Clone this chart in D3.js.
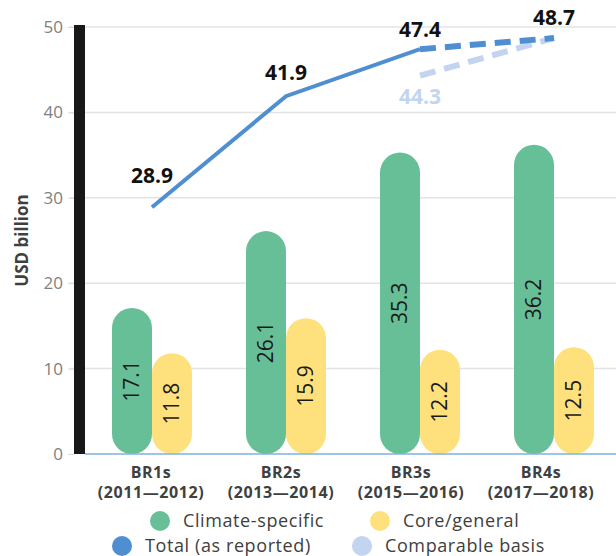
<!DOCTYPE html>
<html>
<head>
<meta charset="utf-8">
<script src="https://cdn.jsdelivr.net/npm/d3@7"></script>
<style>
body { margin: 0; background: #fff; }
text { font-family: "Open Sans", "Noto Sans", sans-serif; }
</style>
</head>
<body>
<svg id="chart" width="616" height="556"></svg>
<script>
let categories = ['BR1s', 'BR2s', 'BR3s', 'BR4s']
let periods = ['(2011\u20142012)', '(2013\u20142014)', '(2015\u20142016)', '(2017\u20142018)']
let climateSpecific = [17.1, 26.1, 35.3, 36.2]
let coreGeneral = [11.8, 15.9, 12.2, 12.5]
let totalReported = [28.9, 41.9, 47.4, 48.7]
let comparableCats = ['BR3s', 'BR4s']
let comparableBasis = [44.3, 48.7]
let yTicks = [0, 10, 20, 30, 40, 50]

let colors = {green: '#67bf98', yellow: '#fee17c', blue: '#4f8fd1', light: '#c3d4f0', text: '#404040'}

let svg = d3.select('#chart')
let width = +svg.attr('width')

let y = d3.scaleLinear().domain([0, 50]).range([454, 27])
let x = d3.scaleBand().domain(categories).range([85, 621])
let xl = d3.scaleBand().domain(categories).range([86, 606])
let sub = d3.scaleBand().domain(['c', 'g']).range([0, 80])

// grid
svg.append('g').selectAll('line')
    .data(yTicks.slice(1))
    .enter().append('line')
    .attr('x1', 70).attr('x2', width)
    .attr('y1', d => y(d)).attr('y2', d => y(d))
    .attr('stroke', '#e4e4e4').attr('stroke-width', 1.5)

// y axis
let yAxis = svg.append('g')
    .attr('transform', 'translate(74,0)')
    .call(d3.axisLeft(y).tickValues(yTicks).tickSize(6).tickPadding(5))
yAxis.select('.domain').remove()
yAxis.selectAll('line').attr('stroke', '#d9d9d9')
yAxis.selectAll('text').attr('fill', '#808080').style('font-size', '17px')

svg.append('rect')
    .attr('x', 74).attr('y', y(50) - 2)
    .attr('width', 11).attr('height', y(0) - y(50) + 2)
    .attr('fill', '#1a1816')

svg.append('text')
    .attr('transform', 'translate(28,' + y(25) + ') rotate(-90)')
    .attr('text-anchor', 'middle')
    .attr('fill', colors.text)
    .style('font-size', '17px').style('font-weight', 'bold')
    .text('USD billion')

// bars
let groups = svg.append('g').selectAll('g')
    .data(categories)
    .enter().append('g')
    .attr('transform', d => 'translate(' + (x(d) + x.bandwidth() / 2 - 40) + ',0)')

groups.append('rect')
    .attr('x', sub('c')).attr('width', sub.bandwidth())
    .attr('y', (d, i) => y(climateSpecific[i]))
    .attr('height', (d, i) => y(0) - y(climateSpecific[i]))
    .attr('rx', 20).attr('fill', colors.green)

groups.append('rect')
    .attr('x', sub('g')).attr('width', sub.bandwidth())
    .attr('y', (d, i) => y(coreGeneral[i]))
    .attr('height', (d, i) => y(0) - y(coreGeneral[i]))
    .attr('rx', 20).attr('fill', colors.yellow)

groups.append('text')
    .attr('transform', (d, i) => 'translate(' + (sub('c') + 20) + ',' + y(climateSpecific[i] / 2) + ') rotate(-90)')
    .attr('text-anchor', 'middle').attr('dy', '0.35em')
    .attr('fill', '#1a1a1a').style('font-size', '21px').style('font-weight', 500)
    .text((d, i) => climateSpecific[i].toFixed(1))

groups.append('text')
    .attr('transform', (d, i) => 'translate(' + (sub('g') + 20) + ',' + y(coreGeneral[i] / 2) + ') rotate(-90)')
    .attr('text-anchor', 'middle').attr('dy', '0.35em')
    .attr('fill', '#1a1a1a').style('font-size', '21px').style('font-weight', 500)
    .text((d, i) => coreGeneral[i].toFixed(1))

// baseline
svg.append('line')
    .attr('x1', 85).attr('x2', width)
    .attr('y1', y(0)).attr('y2', y(0))
    .attr('stroke', '#7fb0e0').attr('stroke-width', 1.5)

// lines
let cx = d => x(d) + x.bandwidth() / 2
let line = d3.line().x(d => cx(d.cat)).y(d => y(d.v))
let total = categories.map((c, i) => ({cat: c, v: totalReported[i]}))
let comp = comparableCats.map((c, i) => ({cat: c, v: comparableBasis[i]}))

svg.append('path')
    .datum(comp)
    .attr('d', line)
    .attr('fill', 'none').attr('stroke', colors.light)
    .attr('stroke-width', 6).attr('stroke-dasharray', '16,9')

svg.append('path')
    .datum(total.slice(0, 3))
    .attr('d', line)
    .attr('fill', 'none').attr('stroke', colors.blue).attr('stroke-width', 4)

svg.append('path')
    .datum(total.slice(2))
    .attr('d', line)
    .attr('fill', 'none').attr('stroke', colors.blue)
    .attr('stroke-width', 6).attr('stroke-dasharray', '16,9')

// line labels
let labelOffsets = [-24, -16, -12, -13]
svg.append('g').selectAll('text')
    .data(total)
    .enter().append('text')
    .attr('x', d => cx(d.cat))
    .attr('y', (d, i) => y(d.v) + labelOffsets[i])
    .attr('text-anchor', 'middle')
    .attr('fill', '#111').style('font-size', '21px').style('font-weight', 'bold')
    .text(d => d.v.toFixed(1))

svg.append('text')
    .attr('x', cx(comp[0].cat))
    .attr('y', y(comp[0].v) + 28)
    .attr('text-anchor', 'middle')
    .attr('fill', colors.light).style('font-size', '21px').style('font-weight', 'bold')
    .text(comp[0].v.toFixed(1))

// category labels
let xLab = svg.append('g').selectAll('g')
    .data(categories)
    .enter().append('g')
    .attr('transform', d => 'translate(' + (xl(d) + xl.bandwidth() / 2) + ',0)')
xLab.append('text')
    .attr('y', 478).attr('text-anchor', 'middle')
    .attr('fill', colors.text).style('font-size', '16px').style('font-weight', 'bold')
    .style('letter-spacing', '0.5px')
    .text(d => d)
xLab.append('text')
    .attr('y', 498).attr('text-anchor', 'middle')
    .attr('fill', colors.text).style('font-size', '16px').style('font-weight', 'bold')
    .style('letter-spacing', '0.6px')
    .text((d, i) => periods[i])

// legend
let legendItems = [
    {label: 'Climate-specific', color: colors.green, x: 160, y: 521},
    {label: 'Core/general', color: colors.yellow, x: 380, y: 521},
    {label: 'Total (as reported)', color: colors.blue, x: 122, y: 546},
    {label: 'Comparable basis', color: colors.light, x: 362, y: 546}
]
let legend = svg.append('g').selectAll('g')
    .data(legendItems)
    .enter().append('g')
    .attr('transform', d => 'translate(' + d.x + ',' + d.y + ')')
legend.append('circle').attr('r', 10).attr('fill', d => d.color)
legend.append('text')
    .attr('x', 23).attr('dy', '0.35em')
    .attr('fill', colors.text).style('font-size', '18px')
    .style('letter-spacing', '0.6px')
    .text(d => d.label)
</script>
</body>
</html>
